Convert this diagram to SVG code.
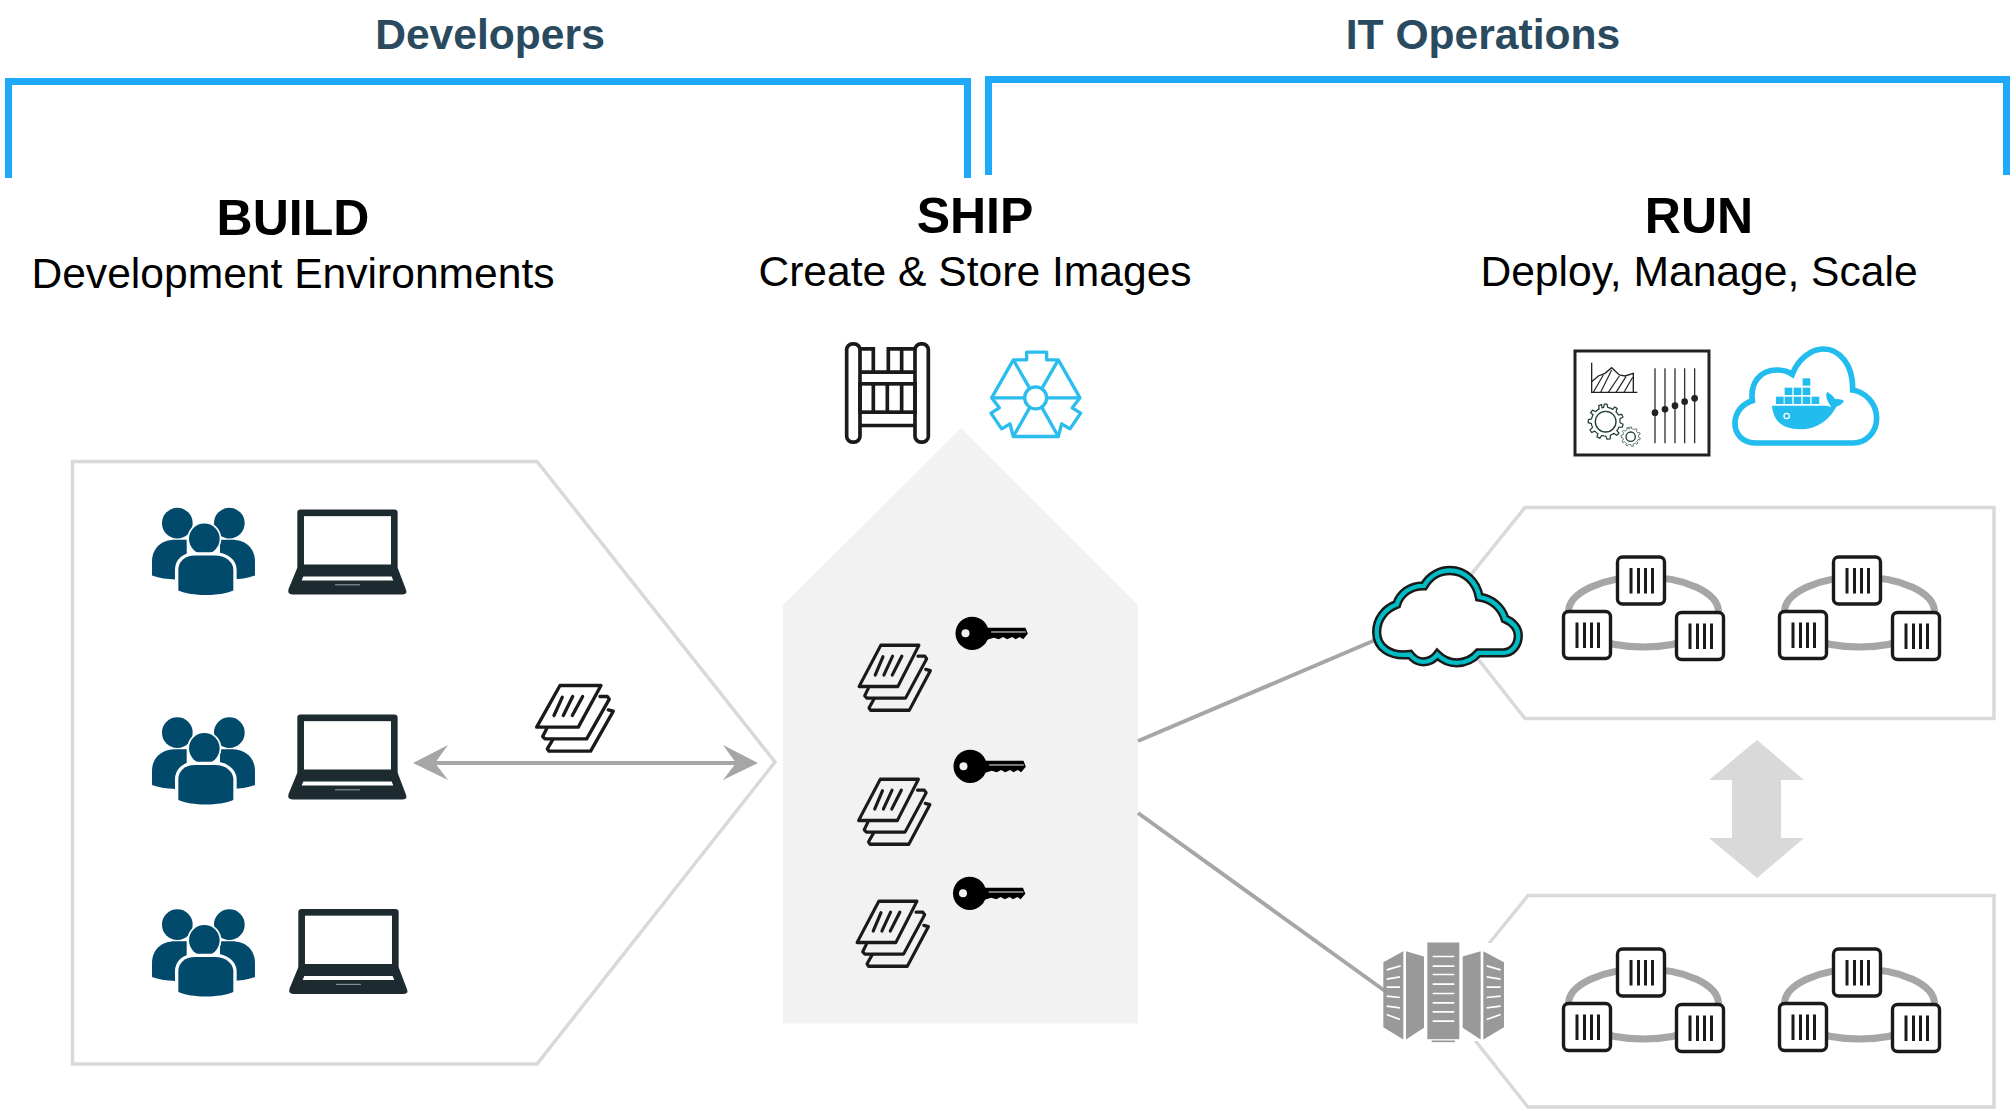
<svg xmlns="http://www.w3.org/2000/svg" width="2016" height="1113" viewBox="0 0 2016 1113">
<style>
text{font-family:"Liberation Sans",Arial,sans-serif;text-anchor:middle}
.role{font-size:42.600px;font-weight:bold;fill:#2a4a60}
.head{font-size:50px;font-weight:bold;fill:#000}
.sub{font-size:42.600px;fill:#000}
.bracket{fill:none;stroke:#1eaaf9;stroke-width:7}
.panel{fill:#fff;stroke:#d9d9d9;stroke-width:3.500}
.conn{stroke:#a6a6a6;stroke-width:4;fill:none}
.dk{fill:none;stroke:#1a1a1a;stroke-width:10;stroke-linejoin:round;stroke-linecap:round}
.gear{fill:#fff;stroke:#1f3d2f;stroke-width:3.500;stroke-linejoin:round}
</style>
<defs>
<g id="people" fill="#024a6c">
<circle cx="172" cy="125" r="46"/><circle cx="328" cy="125" r="46"/>
<path d="M96 282C120 290 140 293 165 294H200V175H165C125 175 96 200 96 240Z"/>
<path d="M405 282C381 290 361 293 336 294H300V175H336C376 175 405 200 405 240Z"/>
<circle cx="253" cy="172" r="46" stroke="#fff" stroke-width="10" paint-order="stroke"/>
<path d="M175 327V265C175 240 195 222 225 222H285C315 222 340 240 340 265V327C300 345 215 345 175 327Z" stroke="#fff" stroke-width="20" paint-order="stroke"/>
</g>
<g id="laptop">
<rect x="532" y="87" width="301" height="185" rx="10" fill="#1d2b31"/>
<path d="M532 262L506 325Q500 342 518 342H848Q865 342 857 325L833 262Z" fill="#1d2b31"/>
<rect x="552" y="107" width="261" height="145" fill="#fff"/>
<path d="M550 288H815L820 300H545Z" fill="#fff"/>
<path d="M645 313H720" stroke="#9aa3a6" stroke-width="3"/>
</g>
<g id="docs">
<path class="dk" d="M600 108H622L628 116L560 235H435L428 228L440 205"/>
<path class="dk" d="M625 148L640 152L572 272H447L442 265L458 238"/>
<path class="dk" d="M480 75H603L535 200H410Z"/>
<path class="dk" d="M487 110L462 165M518 108L490 165M548 108L517 165"/>
</g>
<g id="key">
<circle cx="425" cy="67" r="50" fill="#000"/>
<circle cx="405" cy="67" r="12" fill="#f2f2f2"/>
<path d="M465 50H585L592 68L578 85L568 78L555 85L545 78L530 85L518 78L505 85L490 80L465 88Z" fill="#000"/>
<path d="M482 63H586" stroke="#f2f2f2" stroke-width="3"/>
</g>
<g id="box">
<rect x="-.5" y="-.5" width="47" height="47" rx="5" fill="#fff" stroke="#1a1a1a" stroke-width="3.400"/>
<path d="M13 10.500V36M20.500 10.500V36M27.500 10.500V36M34.500 10.500V36" stroke="#1a1a1a" stroke-width="3"/>
</g>
<g id="cluster">
<ellipse cx="1643.500" cy="612" rx="75" ry="35" fill="none" stroke="#a6a6a6" stroke-width="7"/>
<use href="#box" x="1618" y="557.500"/>
<use href="#box" x="1564" y="612"/>
<use href="#box" x="1677" y="613"/>
</g>
<path id="gearshape" d="M-10.600-39.600L-5.700-40.600L-3.900-49.800H3.900L5.700-40.600L10.600-39.600L15.800-37.800L20.100-34.800L26-42.200L33-37.600L29.500-28.200L33-24.500L36.500-19.300L45.800-21.100L49.500-13.300L40.600-8.100L41-3L41 3L49.800 7.500L47.500 16L38 15.500L35.500 20.500L32 25.500L38 33L31.500 39L24 33.500L18.500 36.400L13.500 38.700L13 49L4 50L0.500 41L-5 40.700L-11 39.500L-17 47.500L-25 43.500L-22 34.500L-26.500 31.400L-31 27L-40 31L-45 23L-37.500 17L-39.500 11L-41 5.500L-50 3L-49.500-6L-40.500-8L-38.500-14L-36-19.500L-43-25.500L-37.500-33L-29-28.500L-24-33L-18.500-36.500L-20-46L-11.500-48.500Z"/>
</defs>

<g id="brackets">
<path class="bracket" d="M8.500 178V81.500H967.500V178"/>
<path class="bracket" d="M988.500 175V79.500H2006.500V175"/>
</g>
<g id="titles">
<text class="role" x="490" y="49">Developers</text>
<text class="role" x="1483" y="49">IT Operations</text>
<text class="head" x="293" y="235">BUILD</text>
<text class="sub" x="293" y="288">Development Environments</text>
<text class="head" x="975" y="233">SHIP</text>
<text class="sub" x="975" y="286">Create &amp; Store Images</text>
<text class="head" x="1699" y="233">RUN</text>
<text class="sub" x="1699" y="286">Deploy, Manage, Scale</text>
</g>

<g id="build-panel">
<path class="panel" d="M72.500 461.500H537L775 762L537 1064H72.500Z"/>
</g>
<g id="ship-panel">
<path d="M783 605L961 428L1138 605V1023.500H783Z" fill="#f2f2f2"/>
</g>
<g id="run-panel-cloud"><path class="panel" d="M1525 507.500H1994V718.500H1525L1441 612Z"/></g>
<g id="run-panel-server"><path class="panel" d="M1528 895.500H1994V1107H1528L1443 1000Z"/>
<rect x="1395" y="943" width="110" height="98" fill="#fff"/></g>

<g id="connectors">
<line class="conn" x1="1138" y1="741" x2="1380" y2="638"/>
<line class="conn" x1="1138" y1="813" x2="1385" y2="991"/>
<path id="arrow-build-ship" class="conn" d="M430 763H742"/>
<path d="M413 763L448 745L435 763L448 780Z" fill="#a6a6a6"/>
<path d="M758 763L723 745L736 763L723 780Z" fill="#a6a6a6"/>
<path id="arrow-scale" d="M1757 740L1804 780H1781V838H1804L1757 878L1709 838H1732V780H1709Z" fill="#d9d9d9"/>
</g>

<g id="dev-1"><use href="#people" transform="translate(120 481.500) scale(.3333)"/><use href="#laptop" transform="translate(120 480.500) scale(.3333)"/></g>
<g id="dev-2"><use href="#people" transform="translate(120 691) scale(.3333)"/><use href="#laptop" transform="translate(120 685.500) scale(.3333)"/></g>
<g id="dev-3"><use href="#people" transform="translate(120 883) scale(.3333)"/><use href="#laptop" transform="translate(121 880) scale(.3333)"/></g>
<g id="image-build"><use href="#docs" transform="translate(400 660.500) scale(.3333)"/></g>

<g id="image-1"><use href="#docs" transform="translate(732 620.500) scale(.31 .33)"/><use href="#key" transform="translate(830.500 611) scale(.3333)"/></g>
<g id="image-2"><use href="#docs" transform="translate(731.500 754.500) scale(.31 .33)"/><use href="#key" transform="translate(828.500 744) scale(.3333)"/></g>
<g id="image-3"><use href="#docs" transform="translate(730 876.500) scale(.31 .33)"/><use href="#key" transform="translate(828 871) scale(.3333)"/></g>

<g id="registry" transform="translate(830 330.500) scale(.3333)">
<g fill="none" stroke="#1a1a1a" stroke-width="11">
<rect x="50" y="40" width="40" height="295" rx="18"/>
<rect x="255" y="40" width="40" height="295" rx="18"/>
<path d="M90 55H130V125H90M255 55H175V125H255M90 125H255M215 55V125"/>
<rect x="90" y="160" width="165" height="85"/>
<path d="M130 160V245M172 160V245M215 160V245M90 285H255"/>
</g>
</g>
<g id="trust" transform="translate(830 330.500) scale(.3333)" fill="none" stroke="#2bbdee" stroke-width="10" stroke-linejoin="round">
<circle cx="617" cy="202" r="33"/>
<path d="M485 202H585M650 202H750M550 88L600 175M685 88L635 175M550 318L600 230M685 318L635 230"/>
<path d="M550 88H590V65H650V88H685L750 202L727 232L752 248L720 295L695 280L685 318H550L540 280L515 295L483 248L508 232L485 202Z"/>
</g>

<g id="dashboard" transform="translate(1560 340) scale(.3333)">
<rect x="45" y="33" width="402" height="312" fill="#fff" stroke="#222" stroke-width="9"/>
<path d="M95 68V157H232" fill="none" stroke="#222" stroke-width="4"/>
<path d="M95 125L115 108L135 100L155 83L178 105L195 108L220 100V157" fill="none" stroke="#222" stroke-width="4"/>
<path d="M100 157L130 105M122 157L155 90M145 157L178 108M168 157L198 110M192 157L218 112" stroke="#222" stroke-width="3.500"/>
<use href="#gearshape" class="gear" transform="translate(137 245) scale(1.05)"/>
<circle cx="137" cy="245" r="31" fill="#fff" stroke="#1f3d2f" stroke-width="4"/>
<use href="#gearshape" class="gear" transform="translate(212 290) scale(.58)"/>
<circle cx="212" cy="290" r="14" fill="#fff" stroke="#1f3d2f" stroke-width="4"/>
<path d="M285 85V310M315 85V310M345 85V310M374 85V310M404 85V310" stroke="#333" stroke-width="4"/>
<g fill="#222"><circle cx="285" cy="218" r="10"/><circle cx="315" cy="208" r="10"/><circle cx="345" cy="197" r="10"/><circle cx="374" cy="185" r="10"/><circle cx="404" cy="175" r="10"/></g>
</g>
<g id="docker-cloud" transform="translate(1560 340) scale(.3333)">
<path d="M590 309C545 309 525 280 525 250C525 215 550 190 577 182C570 130 600 90 650 90C670 90 685 95 697 103C715 55 755 27 790 27C840 27 880 75 878 150C915 155 950 190 950 235C950 280 915 309 880 309Z" fill="#fff" stroke="#22bdee" stroke-width="17"/>
<g fill="#22bdee">
<path d="M636 197H800C815 203 825 200 830 198C810 240 770 268 720 268C670 268 640 245 636 197Z"/>
<path d="M815 203C800 180 795 165 802 155C815 165 825 172 825 178C835 176 845 178 852 183C845 195 830 203 815 203Z"/>
<rect x="648" y="170" width="23" height="22"/><rect x="674" y="170" width="23" height="22"/><rect x="701" y="170" width="23" height="22"/><rect x="728" y="170" width="23" height="22"/><rect x="755" y="170" width="23" height="22"/>
<rect x="674" y="143" width="23" height="22"/><rect x="701" y="143" width="23" height="22"/><rect x="728" y="143" width="23" height="22"/>
<rect x="728" y="115" width="23" height="22"/>
</g>
<circle cx="680" cy="228" r="8" fill="#22bdee" stroke="#fff" stroke-width="4"/>
</g>

<g id="cloud" transform="translate(1350 500.500) scale(.3333)">
<path d="M180 462C120 470 80 440 80 395C80 355 105 325 140 312C150 280 180 255 222 256C240 225 270 210 300 210C345 210 380 245 388 290C425 295 455 320 465 355C490 365 505 385 505 405C505 435 485 457 460 457H385C370 475 345 487 320 487C295 487 275 475 262 462C250 478 235 484 220 484C205 484 190 475 180 462Z" fill="#fff" stroke="#1a1a1a" stroke-width="28"/>
<path d="M180 462C120 470 80 440 80 395C80 355 105 325 140 312C150 280 180 255 222 256C240 225 270 210 300 210C345 210 380 245 388 290C425 295 455 320 465 355C490 365 505 385 505 405C505 435 485 457 460 457H385C370 475 345 487 320 487C295 487 275 475 262 462C250 478 235 484 220 484C205 484 190 475 180 462Z" fill="none" stroke="#00bcc4" stroke-width="13"/>
</g>
<g id="servers" transform="translate(1360 900.500) scale(.3333)">
<g fill="#999">
<path d="M70 185L130 152V417L70 380Z"/><path d="M138 152L192 168V382L138 417Z"/>
<rect x="202" y="126" width="96" height="290"/><rect x="215" y="420" width="70" height="5"/>
<path d="M308 168L362 152V417L308 382Z"/><path d="M370 152L432 185V380L370 417Z"/>
</g>
<path d="M218 168H283M218 197H283M218 222H283M218 251H283M218 279H283M218 307H283M218 334H283M218 362H283M80 208L122 196M80 236L120 229M80 260H120M80 287L120 291M80 317L120 322M80 342L120 357M380 196L422 208M380 229L422 236M380 260H422M380 291L422 287M380 322L422 317M380 357L422 342" stroke="#fff" stroke-width="5" fill="none"/>
</g>

<g id="cluster-1"><use href="#cluster"/></g>
<g id="cluster-2"><use href="#cluster" x="216"/></g>
<g id="cluster-3"><use href="#cluster" y="392"/></g>
<g id="cluster-4"><use href="#cluster" x="216" y="392"/></g>
</svg>
